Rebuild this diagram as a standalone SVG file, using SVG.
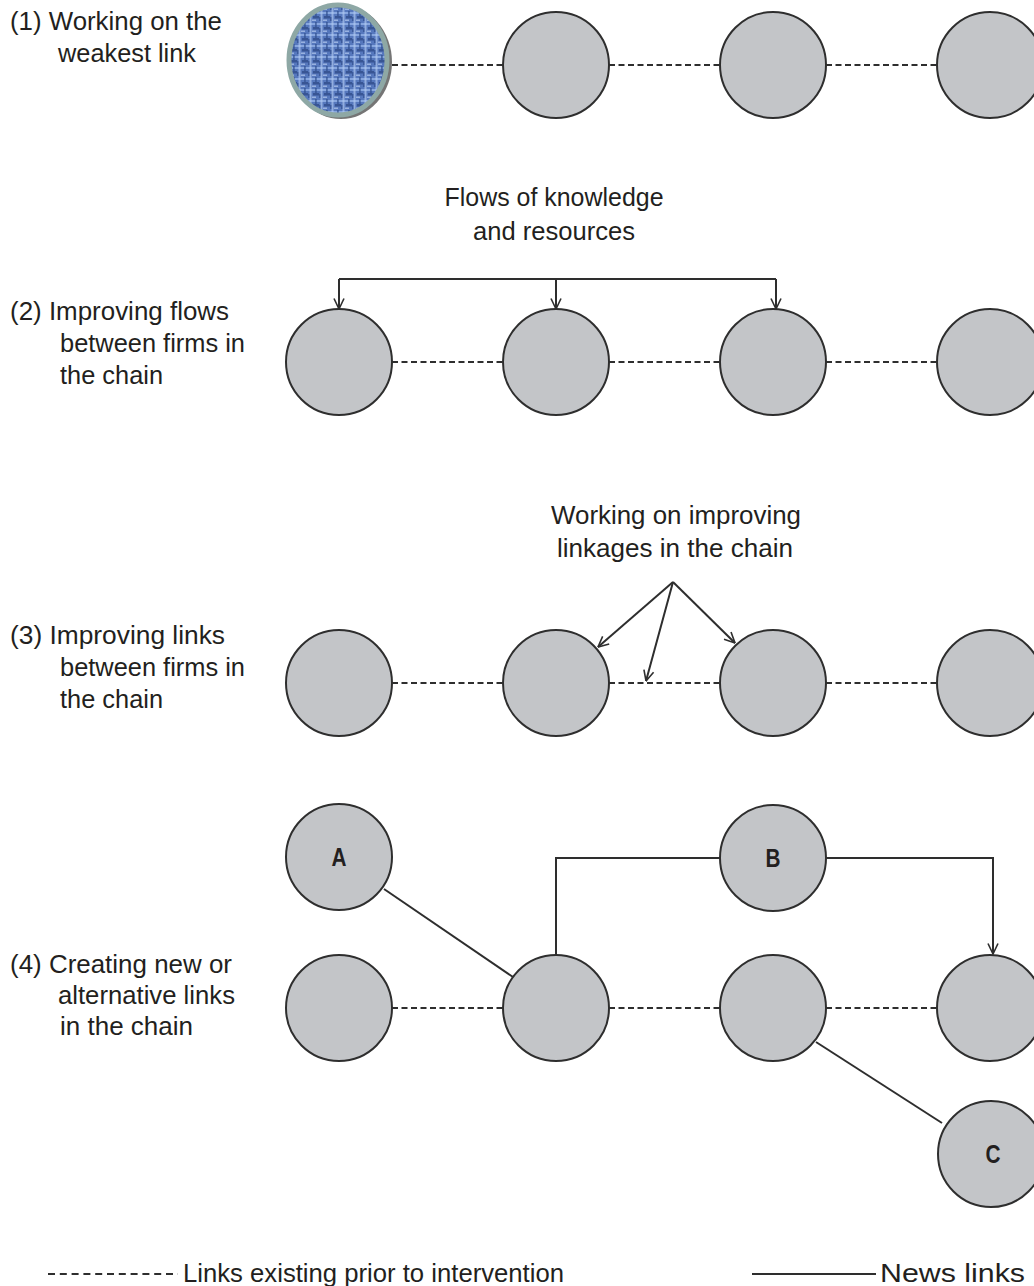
<svg xmlns="http://www.w3.org/2000/svg" width="1034" height="1286" viewBox="0 0 1034 1286">
  <style>
    .lbl { font-family: "Liberation Sans Narrow", "Liberation Sans", "DejaVu Sans", sans-serif; font-size: 26px; fill: #231f20; }
    .mid { text-anchor: middle; }
    .letter { font-family: "Liberation Sans Narrow", "Liberation Sans", sans-serif; font-size: 25px; font-weight: bold; fill: #231f20; text-anchor: middle; }
    .node { fill: #c3c5c8; stroke: #2e2e2e; stroke-width: 2; }
    .old { stroke: #2e2e2e; stroke-width: 2; stroke-dasharray: 6 3.5; fill: none; }
    .new { stroke: #2e2e2e; stroke-width: 2; fill: none; }
  </style>
  <defs>
    <!-- woven blue texture for the highlighted firm -->
    <pattern id="weave" width="11" height="11" patternUnits="userSpaceOnUse">
      <rect width="11" height="11" fill="#5678bd"/>
      <rect x="0" y="1" width="11" height="2" fill="#98b6ea" opacity="0.75"/>
      <rect x="1.5" y="0" width="2" height="11" fill="#b2cbf2" opacity="0.65"/>
      <rect x="5" y="5" width="6" height="2.5" fill="#2c4886" opacity="0.75"/>
      <rect x="7" y="0" width="1.8" height="5" fill="#30508f" opacity="0.7"/>
      <rect x="4" y="8.5" width="4" height="1.5" fill="#c6d8f6" opacity="0.6"/>
      <rect x="0" y="6" width="1.5" height="4" fill="#2a4684" opacity="0.6"/>
    </pattern>
    <filter id="soft" x="-5%" y="-5%" width="110%" height="110%">
      <feGaussianBlur stdDeviation="0.6"/>
    </filter>
    <marker id="vee" viewBox="0 0 12 12" refX="11.5" refY="6" markerWidth="12" markerHeight="12" markerUnits="userSpaceOnUse" orient="auto">
      <path d="M1,1 L11.5,6 L1,11" fill="none" stroke="#2e2e2e" stroke-width="1.6"/>
    </marker>
  </defs>

  <!-- connectors -->
  <g id="connectors">
    <!-- row 1 -->
    <line class="old" x1="392" y1="65" x2="503" y2="65"/>
    <line class="old" x1="609" y1="65" x2="720" y2="65"/>
    <line class="old" x1="826" y1="65" x2="937" y2="65"/>
    <!-- row 2 -->
    <line class="old" x1="392" y1="362" x2="503" y2="362"/>
    <line class="old" x1="609" y1="362" x2="720" y2="362"/>
    <line class="old" x1="826" y1="362" x2="937" y2="362"/>
    <path class="new" d="M339,279 H776"/>
    <line class="new" x1="339" y1="279" x2="339" y2="309" marker-end="url(#vee)"/>
    <line class="new" x1="556" y1="279" x2="556" y2="309" marker-end="url(#vee)"/>
    <line class="new" x1="776" y1="279" x2="776" y2="309" marker-end="url(#vee)"/>
    <!-- row 3 -->
    <line class="old" x1="392" y1="683" x2="503" y2="683"/>
    <line class="old" x1="609" y1="683" x2="720" y2="683"/>
    <line class="old" x1="826" y1="683" x2="937" y2="683"/>
    <line class="new" x1="673" y1="582" x2="598" y2="647" marker-end="url(#vee)"/>
    <line class="new" x1="673" y1="582" x2="646" y2="681" marker-end="url(#vee)"/>
    <line class="new" x1="673" y1="582" x2="735" y2="643" marker-end="url(#vee)"/>
    <!-- row 4 -->
    <line class="old" x1="392" y1="1008" x2="503" y2="1008"/>
    <line class="old" x1="609" y1="1008" x2="720" y2="1008"/>
    <line class="old" x1="826" y1="1008" x2="937" y2="1008"/>
    <line class="new" x1="384" y1="889" x2="513" y2="977"/>
    <path class="new" d="M556,955 V858 H720"/>
    <path class="new" d="M826,858 H993 V954" marker-end="url(#vee)"/>
    <line class="new" x1="816" y1="1042" x2="942" y2="1123"/>
  </g>

  <!-- row 1 nodes -->
  <g id="n1a">
    <ellipse cx="341" cy="62" rx="51" ry="57" fill="#3a3a3a" opacity="0.7"/>
    <ellipse cx="338" cy="60" rx="49" ry="55" fill="url(#weave)" filter="url(#soft)"/>
    <ellipse cx="338" cy="60" rx="49" ry="55" fill="none" stroke="#8ea8a5" stroke-width="5"/>
  </g>
  <g id="n1b"><circle class="node" cx="556" cy="65" r="53"/></g>
  <g id="n1c"><circle class="node" cx="773" cy="65" r="53"/></g>
  <g id="n1d"><circle class="node" cx="990" cy="65" r="53"/></g>

  <!-- row 2 nodes -->
  <g id="n2a"><circle class="node" cx="339" cy="362" r="53"/></g>
  <g id="n2b"><circle class="node" cx="556" cy="362" r="53"/></g>
  <g id="n2c"><circle class="node" cx="773" cy="362" r="53"/></g>
  <g id="n2d"><circle class="node" cx="990" cy="362" r="53"/></g>

  <!-- row 3 nodes -->
  <g id="n3a"><circle class="node" cx="339" cy="683" r="53"/></g>
  <g id="n3b"><circle class="node" cx="556" cy="683" r="53"/></g>
  <g id="n3c"><circle class="node" cx="773" cy="683" r="53"/></g>
  <g id="n3d"><circle class="node" cx="990" cy="683" r="53"/></g>

  <!-- row 4 nodes -->
  <g id="n4a"><circle class="node" cx="339" cy="1008" r="53"/></g>
  <g id="n4b"><circle class="node" cx="556" cy="1008" r="53"/></g>
  <g id="n4c"><circle class="node" cx="773" cy="1008" r="53"/></g>
  <g id="n4d"><circle class="node" cx="990" cy="1008" r="53"/></g>
  <g id="nodeA"><circle class="node" cx="339" cy="857" r="53"/><text class="letter" x="339" y="866" textLength="15" lengthAdjust="spacingAndGlyphs">A</text></g>
  <g id="nodeB"><circle class="node" cx="773" cy="858" r="53"/><text class="letter" x="773" y="867" textLength="15" lengthAdjust="spacingAndGlyphs">B</text></g>
  <g id="nodeC"><circle class="node" cx="991" cy="1154" r="53"/><text class="letter" x="993" y="1163" textLength="15" lengthAdjust="spacingAndGlyphs">C</text></g>

  <!-- row captions -->
  <g id="captions">
    <text class="lbl" x="10" y="30" textLength="212" lengthAdjust="spacingAndGlyphs">(1) Working on the</text>
    <text class="lbl" x="58" y="62" textLength="138" lengthAdjust="spacingAndGlyphs">weakest link</text>

    <text class="lbl mid" x="554" y="206" textLength="219" lengthAdjust="spacingAndGlyphs">Flows of knowledge</text>
    <text class="lbl mid" x="554" y="240" textLength="162" lengthAdjust="spacingAndGlyphs">and resources</text>

    <text class="lbl" x="10" y="320" textLength="219" lengthAdjust="spacingAndGlyphs">(2) Improving flows</text>
    <text class="lbl" x="60" y="352" textLength="185" lengthAdjust="spacingAndGlyphs">between firms in</text>
    <text class="lbl" x="60" y="384" textLength="103" lengthAdjust="spacingAndGlyphs">the chain</text>

    <text class="lbl mid" x="676" y="524" textLength="250" lengthAdjust="spacingAndGlyphs">Working on improving</text>
    <text class="lbl mid" x="675" y="557" textLength="236" lengthAdjust="spacingAndGlyphs">linkages in the chain</text>

    <text class="lbl" x="10" y="644" textLength="215" lengthAdjust="spacingAndGlyphs">(3) Improving links</text>
    <text class="lbl" x="60" y="676" textLength="185" lengthAdjust="spacingAndGlyphs">between firms in</text>
    <text class="lbl" x="60" y="708" textLength="103" lengthAdjust="spacingAndGlyphs">the chain</text>

    <text class="lbl" x="10" y="973" textLength="222" lengthAdjust="spacingAndGlyphs">(4) Creating new or</text>
    <text class="lbl" x="58" y="1004" textLength="177" lengthAdjust="spacingAndGlyphs">alternative links</text>
    <text class="lbl" x="60" y="1035" textLength="133" lengthAdjust="spacingAndGlyphs">in the chain</text>
  </g>

  <!-- legend -->
  <g id="legend">
    <line x1="48" y1="1274" x2="178" y2="1274" stroke="#2e2e2e" stroke-width="2" stroke-dasharray="7 4.8"/>
    <text class="lbl" x="183" y="1282" textLength="381" lengthAdjust="spacingAndGlyphs">Links existing prior to intervention</text>
    <line x1="752" y1="1274" x2="876" y2="1274" stroke="#2e2e2e" stroke-width="2"/>
    <text class="lbl" x="880" y="1282" textLength="145" lengthAdjust="spacingAndGlyphs">News links</text>
  </g>
</svg>
